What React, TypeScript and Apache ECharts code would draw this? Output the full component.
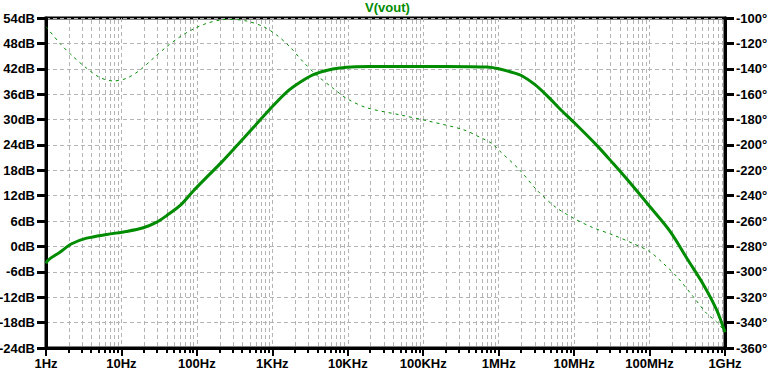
import React, { useEffect, useRef } from 'react';
import * as echarts from 'echarts';

// Magnitude (solid) – frequency in Hz, gain in dB
const gainFreqHz = [1, 1.07, 1.53, 2.19, 3.46, 6.4, 11.7, 19.5, 29.4, 40, 60, 89, 135, 213, 350, 560, 1030, 1550, 2330, 3500, 5200, 7800, 13000, 19500, 100000, 400000, 700000, 1e6, 1.55e6, 2e6, 3e6, 4.4e6, 6.5e6, 1e7, 2e7, 3.3e7, 5.3e7, 1e8, 1.9e8, 3.15e8, 5.25e8, 7.8e8, 1e9];
const gainDb = [-4.0, -3.2, -1.35, 0.64, 1.96, 2.84, 3.55, 4.42, 5.74, 7.33, 9.69, 13.07, 16.38, 19.93, 24.1, 28.1, 33.3, 36.5, 38.8, 40.6, 41.6, 42.2, 42.5, 42.55, 42.55, 42.5, 42.4, 42.0, 41.1, 40.4, 38.3, 35.6, 32.5, 29.3, 23.9, 19.6, 15.4, 9.5, 3.4, -2.9, -9.2, -15.1, -20.3];

// Phase (dashed) – frequency in Hz, phase in degrees
const phaseFreqHz = [1, 1.53, 2.3, 3.46, 5.2, 7.8, 11.7, 17.6, 26.4, 39.8, 60, 89.6, 135, 203, 275, 457, 760, 1140, 1700, 2550, 3850, 6400, 9600, 17800, 50000, 123000, 340000, 565000, 810000, 1e6, 1.9e6, 3.2e6, 5.6e6, 1e7, 1.75e7, 3.3e7, 6e7, 1e8, 1.5e8, 2.3e8, 3.8e8, 5.7e8, 7.7e8, 1e9];
const phaseDeg = [-106.8, -120, -130.5, -139.6, -147, -149.6, -147.5, -141, -131.8, -122.6, -114.7, -108.7, -104.2, -101.6, -101, -102.4, -106.8, -113.4, -122.6, -134.4, -144.9, -155.4, -163.3, -170.7, -176.4, -181.5, -188, -194, -198.8, -204, -219.8, -235.5, -248.7, -258, -265, -271, -277.6, -284, -293, -303.8, -319.6, -332.7, -339.3, -347];

const xTickLabels = ['1Hz', '10Hz', '100Hz', '1KHz', '10KHz', '100KHz', '1MHz', '10MHz', '100MHz', '1GHz'];
const decadeExponents = [0, 1, 2, 3, 4, 5, 6, 7, 8];
const minorMultipliers = [2, 3, 4, 5, 6, 7, 8, 9];

const GAIN_MIN = -24;
const GAIN_MAX = 54;
const PHASE_MIN = -360;
const PHASE_MAX = -100;

const GREEN = '#008c00';
const GRID_GRAY = '#b4b4b4';
const FONT = 'Liberation Sans, Arial, sans-serif';

export default function App() {
  const ref = useRef<HTMLDivElement>(null);

  useEffect(() => {
    document.body.style.margin = '0';
    if (!ref.current) return;
    const chart = echarts.init(ref.current, undefined, { renderer: 'svg' });

    const minorData: number[][] = [];
    decadeExponents.forEach((e) => {
      minorMultipliers.forEach((m) => minorData.push([m * Math.pow(10, e), 0]));
    });

    const labelStyle = { color: '#000', fontFamily: FONT, fontWeight: 'bold' as const, fontSize: 13 };

    chart.setOption({
      animation: false,
      backgroundColor: '#fff',
      title: {
        text: 'V(vout)',
        left: 'center',
        top: 1,
        padding: 0,
        textStyle: { color: GREEN, fontFamily: FONT, fontWeight: 'bold', fontSize: 13 },
      },
      grid: {
        left: 46,
        right: 50,
        top: 18,
        bottom: 25,
        containLabel: false,
        outerBoundsMode: 'none',
        show: true,
        borderColor: '#000',
        borderWidth: 3,
        backgroundColor: 'transparent',
      },
      xAxis: {
        type: 'log',
        logBase: 10,
        min: 1,
        max: 1e9,
        splitNumber: 9,
        axisLine: { show: true, onZero: false, lineStyle: { color: '#000', width: 3 } },
        axisTick: { show: true, length: 8, lineStyle: { color: '#000', width: 2 } },
        minorTick: { show: false },
        axisLabel: {
          ...labelStyle,
          margin: 9,
          formatter: (v: number) => xTickLabels[Math.round(Math.log10(v))] ?? '',
        },
        splitLine: { show: true, lineStyle: { color: GRID_GRAY, width: 1, type: [4, 3] } },
      },
      yAxis: [
        {
          type: 'value',
          min: GAIN_MIN,
          max: GAIN_MAX,
          interval: 6,
          position: 'left',
          axisLine: { show: true, onZero: false, lineStyle: { color: '#000', width: 3 } },
          axisTick: { show: true, length: 9, lineStyle: { color: '#000', width: 3 } },
          axisLabel: { ...labelStyle, margin: 11, formatter: (v: number) => `${v}dB` },
          splitLine: { show: true, lineStyle: { color: GRID_GRAY, width: 1, type: [4, 3] } },
        },
        {
          type: 'value',
          min: PHASE_MIN,
          max: PHASE_MAX,
          interval: 20,
          position: 'right',
          axisLine: { show: true, onZero: false, lineStyle: { color: '#000', width: 3 } },
          axisTick: { show: true, length: 9, lineStyle: { color: '#000', width: 3 } },
          axisLabel: { ...labelStyle, margin: 11, formatter: (v: number) => `${v}°` },
          splitLine: { show: false },
        },
      ],
      series: [
        {
          type: 'custom',
          xAxisIndex: 0,
          yAxisIndex: 0,
          z: 1,
          silent: true,
          data: minorData,
          encode: { x: 0, y: 1 },
          renderItem: (_params: any, api: any) => {
            const f = api.value(0);
            const top = api.coord([f, GAIN_MAX]);
            const bot = api.coord([f, GAIN_MIN]);
            const x = Math.round(top[0]) + 0.5;
            const xt = Math.round(top[0]);
            return {
              type: 'group',
              children: [
                {
                  type: 'line',
                  shape: { x1: x, y1: top[1] + 2, x2: x, y2: bot[1] - 2 },
                  style: { stroke: GRID_GRAY, lineWidth: 1, lineDash: [4, 3] },
                },
                {
                  type: 'line',
                  shape: { x1: xt, y1: bot[1], x2: xt, y2: bot[1] + 5 },
                  style: { stroke: '#000', lineWidth: 2 },
                },
              ],
            };
          },
        },
        {
          type: 'line',
          name: 'phase',
          yAxisIndex: 1,
          z: 3,
          showSymbol: false,
          smooth: 0.3,
          data: phaseFreqHz.map((f, i) => [f, phaseDeg[i]]),
          lineStyle: { color: GREEN, width: 1, type: [3, 4] },
          itemStyle: { color: GREEN },
        },
        {
          type: 'line',
          name: 'gain',
          yAxisIndex: 0,
          z: 4,
          showSymbol: false,
          smooth: 0.3,
          data: gainFreqHz.map((f, i) => [f, gainDb[i]]),
          lineStyle: { color: GREEN, width: 3 },
          itemStyle: { color: GREEN },
        },
      ],
    });

    return () => chart.dispose();
  }, []);

  return <div ref={ref} style={{ width: 775, height: 373 }} />;
}
